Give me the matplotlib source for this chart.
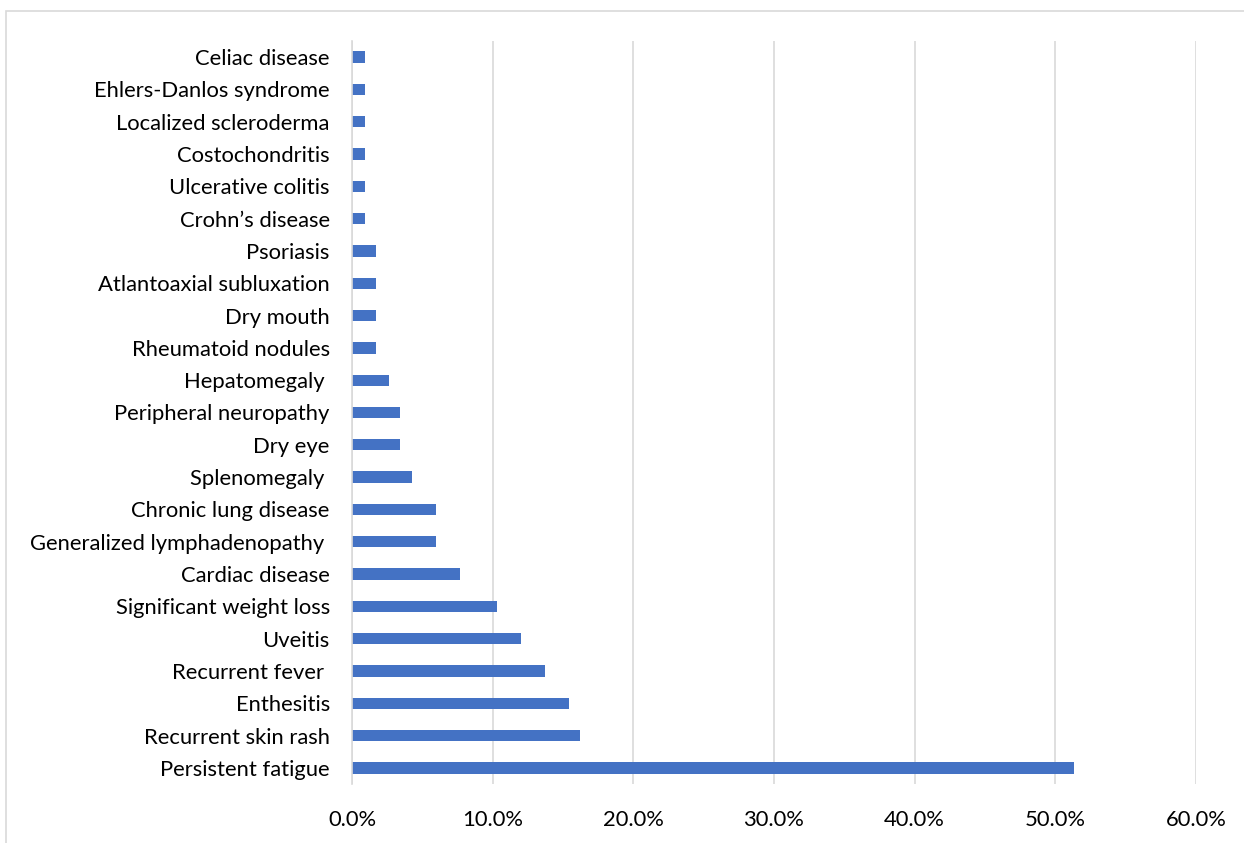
import matplotlib.pyplot as plt
import matplotlib.patches as mpatches
from matplotlib.ticker import FuncFormatter, MultipleLocator

# categories listed bottom to top
categories = ['Persistent fatigue', 'Recurrent skin rash', 'Enthesitis', 'Recurrent fever ',
              'Uveitis', 'Significant weight loss', 'Cardiac disease',
              'Generalized lymphadenopathy ', 'Chronic lung disease', 'Splenomegaly ',
              'Dry eye', 'Peripheral neuropathy', 'Hepatomegaly ', 'Rheumatoid nodules',
              'Dry mouth', 'Atlantoaxial subluxation', 'Psoriasis', 'Crohn\u2019s disease',
              'Ulcerative colitis', 'Costochondritis', 'Localized scleroderma',
              'Ehlers-Danlos syndrome', 'Celiac disease']
percents = [51.3, 16.2, 15.4, 13.7, 12.0, 10.3, 7.7, 6.0, 6.0, 4.3, 3.4, 3.4, 2.6,
            1.7, 1.7, 1.7, 1.7, 0.9, 0.9, 0.9, 0.9, 0.9, 0.9]

plt.rcParams['font.family'] = ['Lato', 'DejaVu Sans']

W, H = 1244, 843
fig = plt.figure(figsize=(W / 100, H / 100), dpi=100)
ax = fig.add_axes([352 / W, 1 - 784 / H, (1196 - 352) / W, (784 - 41) / H])

# outer frame of the original chart area (only top and left edges fall inside the picture)
fig.patches.append(mpatches.Rectangle((6 / W, -0.1), 1.2, 1.1 - 11 / H, transform=fig.transFigure,
                                      fill=False, edgecolor='#D9D9D9', linewidth=1.2))

ypos = range(len(categories))
ax.barh(ypos, percents, height=0.35, color='#4472C4', zorder=3)

ax.set_xlim(0, 60)
ax.set_ylim(-0.5, len(categories) - 0.5)
ax.xaxis.set_major_locator(MultipleLocator(10))
ax.xaxis.set_major_formatter(FuncFormatter(lambda v, p: f'{v:.1f}%'))
ax.set_yticks(list(ypos))
ax.set_yticklabels(categories)

ax.grid(axis='x', color='#D9D9D9', linewidth=1.2, zorder=0)
for s in ['top', 'right', 'bottom']:
    ax.spines[s].set_visible(False)
ax.spines['left'].set_color('#D9D9D9')
ax.spines['left'].set_linewidth(1.2)
ax.spines['left'].set_zorder(4)

ax.tick_params(axis='both', length=0, labelsize=15.8, colors='black')
ax.tick_params(axis='y', pad=16)
ax.tick_params(axis='x', pad=19)

fig.savefig('out.png', dpi=100)
